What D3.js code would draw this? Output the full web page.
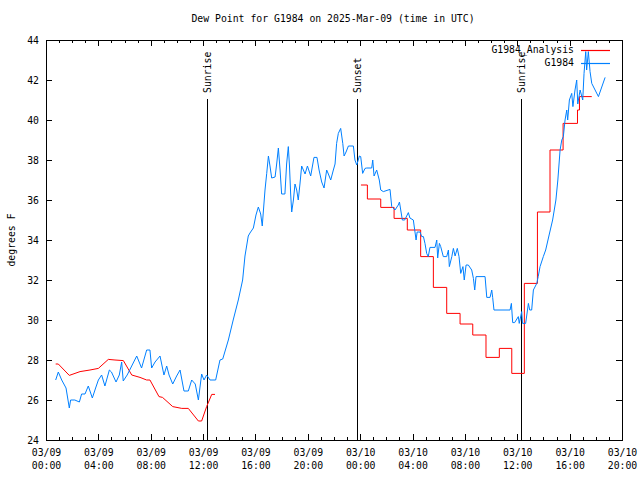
<!DOCTYPE html>
<html><head><meta charset="utf-8">
<script src="https://cdn.jsdelivr.net/npm/d3@7"></script>
<style>
body{margin:0;background:#fff;}
text{font-family:"DejaVu Sans Mono",monospace;font-size:9.8px;fill:#000;}
</style></head>
<body><svg id="c" width="640" height="480"></svg>
<script>
// ---- data (hours after 2025-03-09 00:00 UTC) ----
const blueHours = [0.74,0.94,1.2,1.53,1.78,1.88,2.2,2.55,2.72,2.98,3.23,3.54,3.79,4.0,4.25,4.5,4.84,5.0,5.35,5.6,5.78,5.9,6.2,6.47,6.93,7.3,7.69,7.94,8.07,8.33,8.71,9.01,9.22,9.4,9.68,9.98,10.24,10.54,10.87,11.13,11.4,11.64,11.89,12.07,12.27,12.53,12.96,13.29,13.5,13.93,14.3,14.69,15.02,15.2,15.45,15.58,15.84,16.04,16.22,16.4,16.52,16.6,16.73,16.86,16.99,17.11,17.24,17.5,17.62,17.75,17.88,18.0,18.25,18.38,18.51,18.6,18.69,18.77,18.9,19.02,19.15,19.27,19.4,19.53,19.79,19.97,20.22,20.47,20.7,20.86,21.06,21.24,21.44,21.57,21.75,21.95,22.08,22.2,22.33,22.51,22.67,22.77,22.92,23.1,23.48,23.6,23.74,23.94,24.04,24.19,24.37,24.5,24.88,24.96,25.06,25.26,25.46,25.57,25.77,26.28,26.41,26.66,26.91,27.0,27.22,27.4,27.68,27.8,28.06,28.27,28.35,28.57,28.7,28.83,28.95,29.08,29.2,29.33,29.72,29.85,29.92,30.05,30.15,30.35,30.61,30.74,30.81,31.0,31.12,31.25,31.42,31.55,31.68,31.85,31.95,32.09,32.26,32.52,32.65,32.75,32.85,33.54,33.67,33.92,34.05,34.12,34.22,35.45,35.55,35.65,35.8,36.08,36.15,36.34,36.4,36.64,36.85,36.95,37.1,37.23,37.49,37.6,37.74,37.99,38.17,38.45,38.7,38.95,39.1,39.27,39.4,39.52,39.65,39.78,39.85,39.98,40.16,40.25,40.41,40.54,40.62,40.8,41.0,41.1,41.23,41.3,41.43,41.56,41.69,42.2,42.71];
const blueValues = [27.0,27.4,27.0,26.6,25.6,26.0,26.0,25.9,26.3,26.3,26.7,26.1,26.6,27.0,27.25,26.7,27.5,27.4,26.9,27.25,27.9,26.95,27.25,27.6,28.2,27.6,28.5,28.5,27.6,27.9,28.2,27.25,27.7,27.25,26.8,27.2,27.5,26.45,26.45,27.0,26.8,26.0,27.3,27.0,27.25,27.0,27.0,28.0,28.05,29.0,30.0,31.0,32.0,33.2,34.2,34.35,34.6,35.25,35.65,35.3,34.7,35.4,36.5,37.33,38.2,37.7,37.1,37.15,37.8,38.6,37.5,36.3,36.3,37.8,38.67,37.7,36.3,35.4,36.0,36.8,36.5,36.0,36.8,37.7,37.3,37.7,37.2,38.13,38.13,37.5,36.9,36.6,37.5,37.3,37.0,37.5,37.8,38.83,39.33,39.58,38.83,38.2,38.4,38.7,38.7,38.0,37.75,38.2,38.17,37.33,37.58,37.6,37.6,38.0,37.2,37.5,37.0,36.5,36.42,36.53,35.67,35.5,35.75,35.9,35.0,35.0,35.37,35.1,35.0,34.0,34.4,34.4,34.17,34.17,33.83,33.33,33.17,33.63,33.63,34.0,33.1,33.83,33.67,33.17,33.17,33.5,32.67,33.17,33.58,33.2,33.58,33.17,32.33,32.67,32.0,32.75,32.75,32.5,32.08,31.5,32.17,32.17,31.13,31.13,31.5,31.13,30.5,30.5,30.83,29.87,29.87,30.17,29.83,30.42,29.83,29.83,30.83,30.5,30.5,31.5,31.83,32.17,32.67,33.17,33.5,34.3,35.0,36.0,37.0,38.5,39.0,39.17,40.0,40.5,40.0,41.0,41.33,40.67,41.5,42.0,40.8,41.5,41.0,42.33,43.42,42.5,43.42,42.42,41.83,41.17,42.13];

// analysis, first part (linear)
const redHours1 = [0.74,0.94,1.78,2.6,3.36,4.0,4.76,5.27,5.91,6.55,7.18,7.69,7.94,8.63,8.9,9.68,10.37,10.87,11.64,11.89,12.27,12.66,12.91];
const redValues1 = [27.8,27.8,27.23,27.42,27.5,27.58,28.03,28.0,27.97,27.25,27.13,27.0,27.0,26.17,26.13,25.67,25.58,25.58,24.95,24.95,25.67,26.28,26.28];
// analysis, second part (held values, step changes)
const redHours2 = [24.06,24.55,25.57,26.59,27.6,28.62,29.59,30.61,31.63,32.6,33.61,34.63,35.58,36.54,37.54,38.5,39.5,40.6,40.75,41.69];
const redValues2 = [36.75,36.05,35.63,35.08,34.5,33.17,31.63,30.33,29.8,29.25,28.13,28.58,27.33,31.83,35.4,38.5,39.83,40.5,41.17,41.17];

const eventHours = [12.32, 23.78, 36.31];
const eventLabels = ["Sunrise", "Sunset", "Sunrise"];
const yTicks = [24,26,28,30,32,34,36,38,40,42,44];
const seriesNames = ["G1984_Analysis", "G1984"];
const seriesColors = ["#ff0000", "#0080ff"];
const titleText = "Dew Point for G1984 on 2025-Mar-09 (time in UTC)";
const yLabel = "degrees F";

// ---- chart ----
const svg = d3.select("#c");
const L = 46, R = 622, T = 40, B = 440;
const t0 = Date.UTC(2025, 2, 9, 0), t1 = Date.UTC(2025, 2, 10, 20);
const toDate = h => new Date(t0 + h * 3600000);
const x = d3.scaleUtc().domain([new Date(t0), new Date(t1)]).range([L, R]);
const y = d3.scaleLinear().domain([24, 44]).range([B, T]);

const major = d3.utcHour.every(4).range(new Date(t0), new Date(t1 + 1));
const minor = d3.utcHour.range(new Date(t0), new Date(t1 + 1));
const fmt1 = d3.utcFormat("%m/%d"), fmt2 = d3.utcFormat("%H:%M");

function clean(g){ g.select(".domain").remove(); g.selectAll("line").attr("stroke","#000").attr("shape-rendering","crispEdges"); }

// minor ticks bottom/top
svg.append("g").attr("transform",`translate(0,${B})`)
  .call(d3.axisBottom(x).tickValues(minor).tickSizeInner(-3).tickSizeOuter(0).tickFormat("")).call(clean);
svg.append("g").attr("transform",`translate(0,${T})`)
  .call(d3.axisTop(x).tickValues(minor).tickSizeInner(-3).tickSizeOuter(0).tickFormat("")).call(clean);
// major ticks bottom with labels
const gx = svg.append("g").attr("transform",`translate(0,${B})`)
  .call(d3.axisBottom(x).tickValues(major).tickSizeInner(-6).tickSizeOuter(0)).call(clean);
gx.selectAll("text").each(function(d){
  const t = d3.select(this).attr("y", null).attr("dy", null).text("")
    .attr("font-family", null).attr("font-size", null).attr("fill", "#000");
  t.append("tspan").attr("x",0).attr("y",16).text(fmt1(d));
  t.append("tspan").attr("x",0).attr("y",29).text(fmt2(d));
});
gx.attr("font-family", null).attr("font-size", null);
svg.append("g").attr("transform",`translate(0,${T})`)
  .call(d3.axisTop(x).tickValues(major).tickSizeInner(-6).tickSizeOuter(0).tickFormat("")).call(clean);

// y axes
const gy = svg.append("g").attr("transform",`translate(${L},0)`)
  .call(d3.axisLeft(y).tickValues(yTicks).tickSizeInner(-6).tickSizeOuter(0).tickPadding(7).tickFormat(d3.format("d"))).call(clean);
gy.attr("font-family", null).attr("font-size", null);
gy.selectAll("text").attr("fill","#000");
svg.append("g").attr("transform",`translate(${R},0)`)
  .call(d3.axisRight(y).tickValues(yTicks).tickSizeInner(-6).tickSizeOuter(0).tickFormat("")).call(clean);

// border
svg.append("rect").attr("x",L).attr("y",T).attr("width",R-L).attr("height",B-T)
  .attr("fill","none").attr("stroke","#000").attr("shape-rendering","crispEdges");

// event lines
eventHours.forEach((h,i)=>{
  const xx = Math.round(x(toDate(h))) + 0.5;
  svg.append("line").attr("x1",xx).attr("x2",xx).attr("y1",B).attr("y2",99)
    .attr("stroke","#000").attr("stroke-width",1);
  svg.append("text").attr("transform",`translate(${xx+0.5},93) rotate(-90)`)
    .attr("dy","0.35em").attr("text-anchor","start").text(eventLabels[i]);
});

// series
const line = d3.line().x(d=>x(toDate(d[0]))).y(d=>y(d[1]));
const stepLine = d3.line().x(d=>x(toDate(d[0]))).y(d=>y(d[1])).curve(d3.curveStepAfter);
svg.append("path").datum(redHours1.map((h,i)=>[h,redValues1[i]]))
  .attr("d",line).attr("fill","none").attr("stroke",seriesColors[0]).attr("stroke-width",1);
svg.append("path").datum(redHours2.map((h,i)=>[h,redValues2[i]]))
  .attr("d",stepLine).attr("fill","none").attr("stroke",seriesColors[0]).attr("stroke-width",1);
svg.append("path").datum(blueHours.map((h,i)=>[h,blueValues[i]]))
  .attr("d",line).attr("fill","none").attr("stroke",seriesColors[1]).attr("stroke-width",1);

// legend
seriesNames.forEach((n,i)=>{
  const yy = 50 + i*12.5;
  svg.append("text").attr("x",574).attr("y",yy).attr("dy","0.35em").attr("text-anchor","end").text(n);
  svg.append("line").attr("x1",581).attr("x2",610).attr("y1",Math.round(yy)+0.5).attr("y2",Math.round(yy)+0.5)
    .attr("stroke",seriesColors[i]).attr("stroke-width",1.2);
});

// title and y label
svg.append("text").attr("x",333).attr("y",19).attr("dy","0.35em").attr("text-anchor","middle").text(titleText);
svg.append("text").attr("transform","translate(12,240) rotate(-90)").attr("dy","0.35em")
  .attr("text-anchor","middle").text(yLabel);
</script></body></html>
